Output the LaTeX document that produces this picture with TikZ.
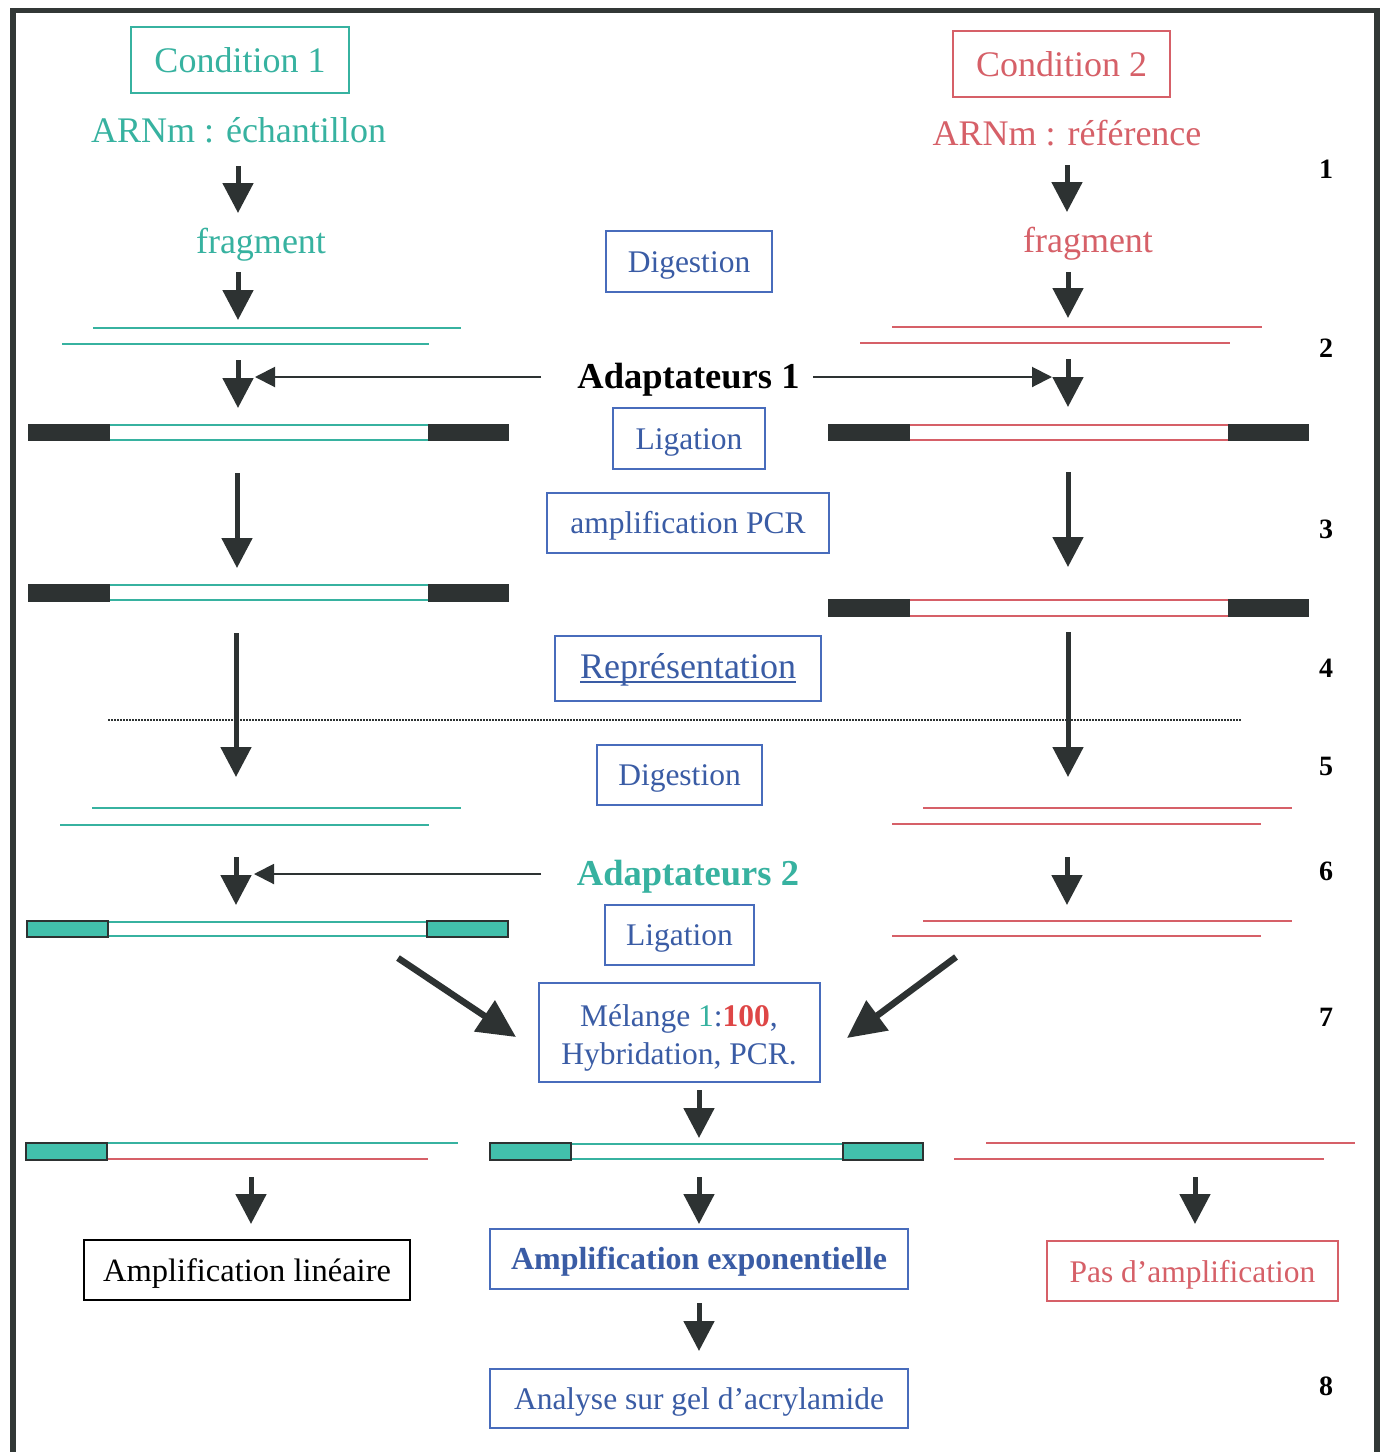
\documentclass[tikz,border=0pt]{standalone}
\usepackage{fontspec}
\setmainfont{Liberation Serif}
\usetikzlibrary{arrows.meta}
\definecolor{tealc}{RGB}{55,178,160}
\definecolor{tealf}{RGB}{66,192,172}
\definecolor{pinkc}{RGB}{214,96,104}
\definecolor{bluet}{RGB}{58,92,165}
\definecolor{blueb}{RGB}{72,108,188}
\definecolor{darkc}{RGB}{45,50,50}
\definecolor{framec}{RGB}{50,56,54}
\definecolor{redc}{RGB}{222,70,70}
\newcommand\txtbig{\fontsize{36}{43}\selectfont}
\newcommand\txtbox{\fontsize{31.5}{38}\selectfont}
\newcommand\txtadapt{\fontsize{36.5}{43}\selectfont\bfseries}
\newcommand\txtnum{\fontsize{28}{34}\selectfont\bfseries}
\newcommand\myul[1]{\setbox0\hbox{#1}\rlap{\rule[-4pt]{\wd0}{1.5pt}}\box0}
\tikzset{
  boxb/.style={draw=blueb, line width=1.8pt, text=bluet, font=\txtbox, inner sep=0pt, text height=21pt, text depth=0pt},
  boxt/.style={draw=tealc, line width=1.8pt, text=tealc, font=\txtbig, inner sep=0pt, text height=25pt, text depth=0pt},
  boxp/.style={draw=pinkc, line width=1.8pt, text=pinkc, font=\txtbig, inner sep=0pt, text height=25pt, text depth=0pt},
  boxk/.style={draw=black, line width=1.8pt, text=black, font=\txtbox, inner sep=0pt, text height=23pt, text depth=0pt},
  tealtxt/.style={text=tealc, font=\txtbig, anchor=base, inner sep=0pt},
  pinktxt/.style={text=pinkc, font=\txtbig, anchor=base, inner sep=0pt},
  bluetxt/.style={text=bluet, font=\txtbox, anchor=base, inner sep=0pt},
  numtxt/.style={text=black, font=\txtnum, anchor=base, inner sep=0pt},
  bigarrow/.style={draw=darkc, line width=5pt, -{Triangle[width=30pt,length=30pt]}},
  thinarrow/.style={draw=darkc, line width=2pt, -{Triangle[width=20pt,length=20pt]}},
  diagarrow/.style={draw=darkc, line width=6.5pt, -{Triangle[width=36pt,length=38pt]}},
  tline/.style={draw=tealc, line width=2pt},
  pline/.style={draw=pinkc, line width=2pt},
  darkbar/.style={fill=darkc},
  tealbar/.style={fill=tealf, draw=darkc, line width=1.5pt},
}
\begin{document}
\begin{tikzpicture}[x=1pt,y=-1pt]
\useasboundingbox (0,0) rectangle (1385,1452);
\fill[white] (0,0) rectangle (1385,1452);
% frame
\draw[framec, line width=5.5pt] (13,1452) -- (13,10.5) -- (1377,10.5) -- (1377,1452);

% ---------- top ----------
\node[boxt, minimum width=218pt, minimum height=66pt] (cond1) at (240,60) {Condition 1};
\node[boxp, minimum width=217pt, minimum height=66pt] (cond2) at (1061.5,64) {Condition 2};
\node[tealtxt] (arnm1) at (238.5,142) {ARNm : échantillon};
\node[pinktxt] (arnm2) at (1067,145) {ARNm : référence};
\node[tealtxt] (frag1) at (261,253) {fragment};
\node[pinktxt] (frag2) at (1088,252) {fragment};
\node[boxb, minimum width=166pt, minimum height=61pt] (dig1) at (689,261.5) {Digestion};

% numbers
\node[numtxt] (n1) at (1326,178) {1};
\node[numtxt] (n2) at (1326,357) {2};
\node[numtxt] (n3) at (1326,538) {3};
\node[numtxt] (n4) at (1326,677) {4};
\node[numtxt] (n5) at (1326,775) {5};
\node[numtxt] (n6) at (1326,880) {6};
\node[numtxt] (n7) at (1326,1026) {7};
\node[numtxt] (n8) at (1326,1395) {8};

% arrow coordinates
\coordinate (L1a) at (238,166); \coordinate (L1b) at (238,213);
\coordinate (L2a) at (238,272); \coordinate (L2b) at (238,320);
\coordinate (L3a) at (238,360); \coordinate (L3b) at (238,408);
\coordinate (L4a) at (237,473); \coordinate (L4b) at (237,568);
\coordinate (L5a) at (236,633); \coordinate (L5b) at (236,777);
\coordinate (L6a) at (236,857); \coordinate (L6b) at (236,905);
\coordinate (R1a) at (1067,165); \coordinate (R1b) at (1067,212);
\coordinate (R2a) at (1068,272); \coordinate (R2b) at (1068,318);
\coordinate (R3a) at (1068,359); \coordinate (R3b) at (1068,407);
\coordinate (R4a) at (1068,472); \coordinate (R4b) at (1068,567);
\coordinate (R5a) at (1068,632); \coordinate (R5b) at (1068,777);
\coordinate (R6a) at (1067,857); \coordinate (R6b) at (1067,905);
\coordinate (M1a) at (699,1090); \coordinate (M1b) at (699,1138);
\coordinate (L7a) at (251,1177); \coordinate (L7b) at (251,1224);
\coordinate (M2a) at (699,1177); \coordinate (M2b) at (699,1224);
\coordinate (R7a) at (1195,1177); \coordinate (R7b) at (1195,1224);
\coordinate (M3a) at (699,1303); \coordinate (M3b) at (699,1351);

\foreach \a in {L1,L2,L3,L4,L5,L6,R1,R2,R3,R4,R5,R6,M1,L7,M2,R7,M3}
  \draw[bigarrow] (\a a) -- (\a b);

% strands step 1-2
\draw[tline] (93,328) -- (461,328);
\draw[tline] (62,344) -- (429,344);
\draw[pline] (892,327) -- (1262,327);
\draw[pline] (860,343) -- (1230,343);

% Adaptateurs 1
\node[text=black, font=\txtadapt, anchor=base, inner sep=0pt] (ad1) at (688.5,388) {Adaptateurs 1};
\coordinate (h1a) at (541,377); \coordinate (h1b) at (255,377);
\coordinate (h2a) at (813,377); \coordinate (h2b) at (1052,377);
\draw[thinarrow] (h1a) -- (h1b);
\draw[thinarrow] (h2a) -- (h2b);

\node[boxb, minimum width=152pt, minimum height=61pt] (lig1) at (689,438.5) {Ligation};

% ds with black adaptors, step 2
\draw[tline] (110,425) -- (428,425);
\draw[tline] (110,440) -- (428,440);
\fill[darkbar] (28,424) rectangle (110,441);
\fill[darkbar] (428,424) rectangle (509,441);
\draw[pline] (910,425) -- (1228,425);
\draw[pline] (910,440) -- (1228,440);
\fill[darkbar] (828,424) rectangle (910,441);
\fill[darkbar] (1228,424) rectangle (1309,441);

\node[boxb, minimum width=282pt, minimum height=60pt] (pcr) at (688,523) {amplification PCR};

% step 3
\draw[tline] (110,585) -- (428,585);
\draw[tline] (110,600) -- (428,600);
\fill[darkbar] (28,584) rectangle (110,602);
\fill[darkbar] (428,584) rectangle (509,602);
\draw[pline] (910,600) -- (1228,600);
\draw[pline] (910,616) -- (1228,616);
\fill[darkbar] (828,599) rectangle (910,617);
\fill[darkbar] (1228,599) rectangle (1309,617);

\node[boxb, font=\txtbig, text height=20pt, minimum width=266pt, minimum height=65pt] (repr) at (688,668.5) {\myul{Représentation}};

% dotted line
\draw[darkc, line width=1.6pt, dash pattern=on 1.6pt off 1.4pt] (108,720) -- (1241,720);

\node[boxb, minimum width=165pt, minimum height=60pt] (dig2) at (679.5,775) {Digestion};

% strands step 5
\draw[tline] (92,808) -- (461,808);
\draw[tline] (60,825) -- (429,825);
\draw[pline] (923,808) -- (1292,808);
\draw[pline] (892,824) -- (1261,824);

% Adaptateurs 2
\node[text=tealc, font=\txtadapt, anchor=base, inner sep=0pt] (ad2) at (688,885) {Adaptateurs 2};
\coordinate (h3a) at (541,874); \coordinate (h3b) at (254,874);
\draw[thinarrow] (h3a) -- (h3b);

\node[boxb, minimum width=149pt, minimum height=60pt] (lig2) at (679.5,935) {Ligation};

% step 6
\draw[tline] (108,922) -- (427,922);
\draw[tline] (108,936) -- (427,936);
\filldraw[tealbar] (27,921) rectangle (108,937);
\filldraw[tealbar] (427,921) rectangle (508,937);
\draw[pline] (923,921) -- (1292,921);
\draw[pline] (892,936) -- (1261,936);

% Melange
\node[boxb, minimum width=281pt, minimum height=99pt] (mel) at (679.5,1032.5) {};
\node[bluetxt] (mel1) at (679,1026) {Mélange {\color{tealc}1}:{\color{redc}\bfseries 100},};
\node[bluetxt] (mel2) at (679,1064) {Hybridation, PCR.};
\coordinate (d1a) at (398,958); \coordinate (d1b) at (516,1037);
\coordinate (d2a) at (956,957); \coordinate (d2b) at (847,1038);
\draw[diagarrow] (d1a) -- (d1b);
\draw[diagarrow] (d2a) -- (d2b);

% step 7 products
\draw[tline] (107,1143) -- (458,1143);
\draw[pline] (107,1159) -- (428,1159);
\filldraw[tealbar] (26,1143) rectangle (107,1160);
\draw[tline] (571,1144) -- (843,1144);
\draw[tline] (571,1159) -- (843,1159);
\filldraw[tealbar] (490,1143) rectangle (571,1160);
\filldraw[tealbar] (843,1143) rectangle (923,1160);
\draw[pline] (986,1143) -- (1355,1143);
\draw[pline] (954,1159) -- (1324,1159);

% results
\node[boxk, font=\fontsize{32.5}{38}\selectfont, minimum width=326pt, minimum height=60pt] (amplin) at (247,1270) {Amplification linéaire};
\node[boxb, font=\fontsize{32}{38}\selectfont\bfseries, minimum width=418pt, minimum height=60pt] (ampexp) at (699,1259) {Amplification exponentielle};
\node[boxp, font=\txtbox, text height=22pt, minimum width=291pt, minimum height=60pt] (pas) at (1192.5,1271) {Pas d’amplification};
\node[boxb, minimum width=418pt, minimum height=59pt] (analyse) at (699,1398.5) {Analyse sur gel d’acrylamide};
\end{tikzpicture}
\end{document}
